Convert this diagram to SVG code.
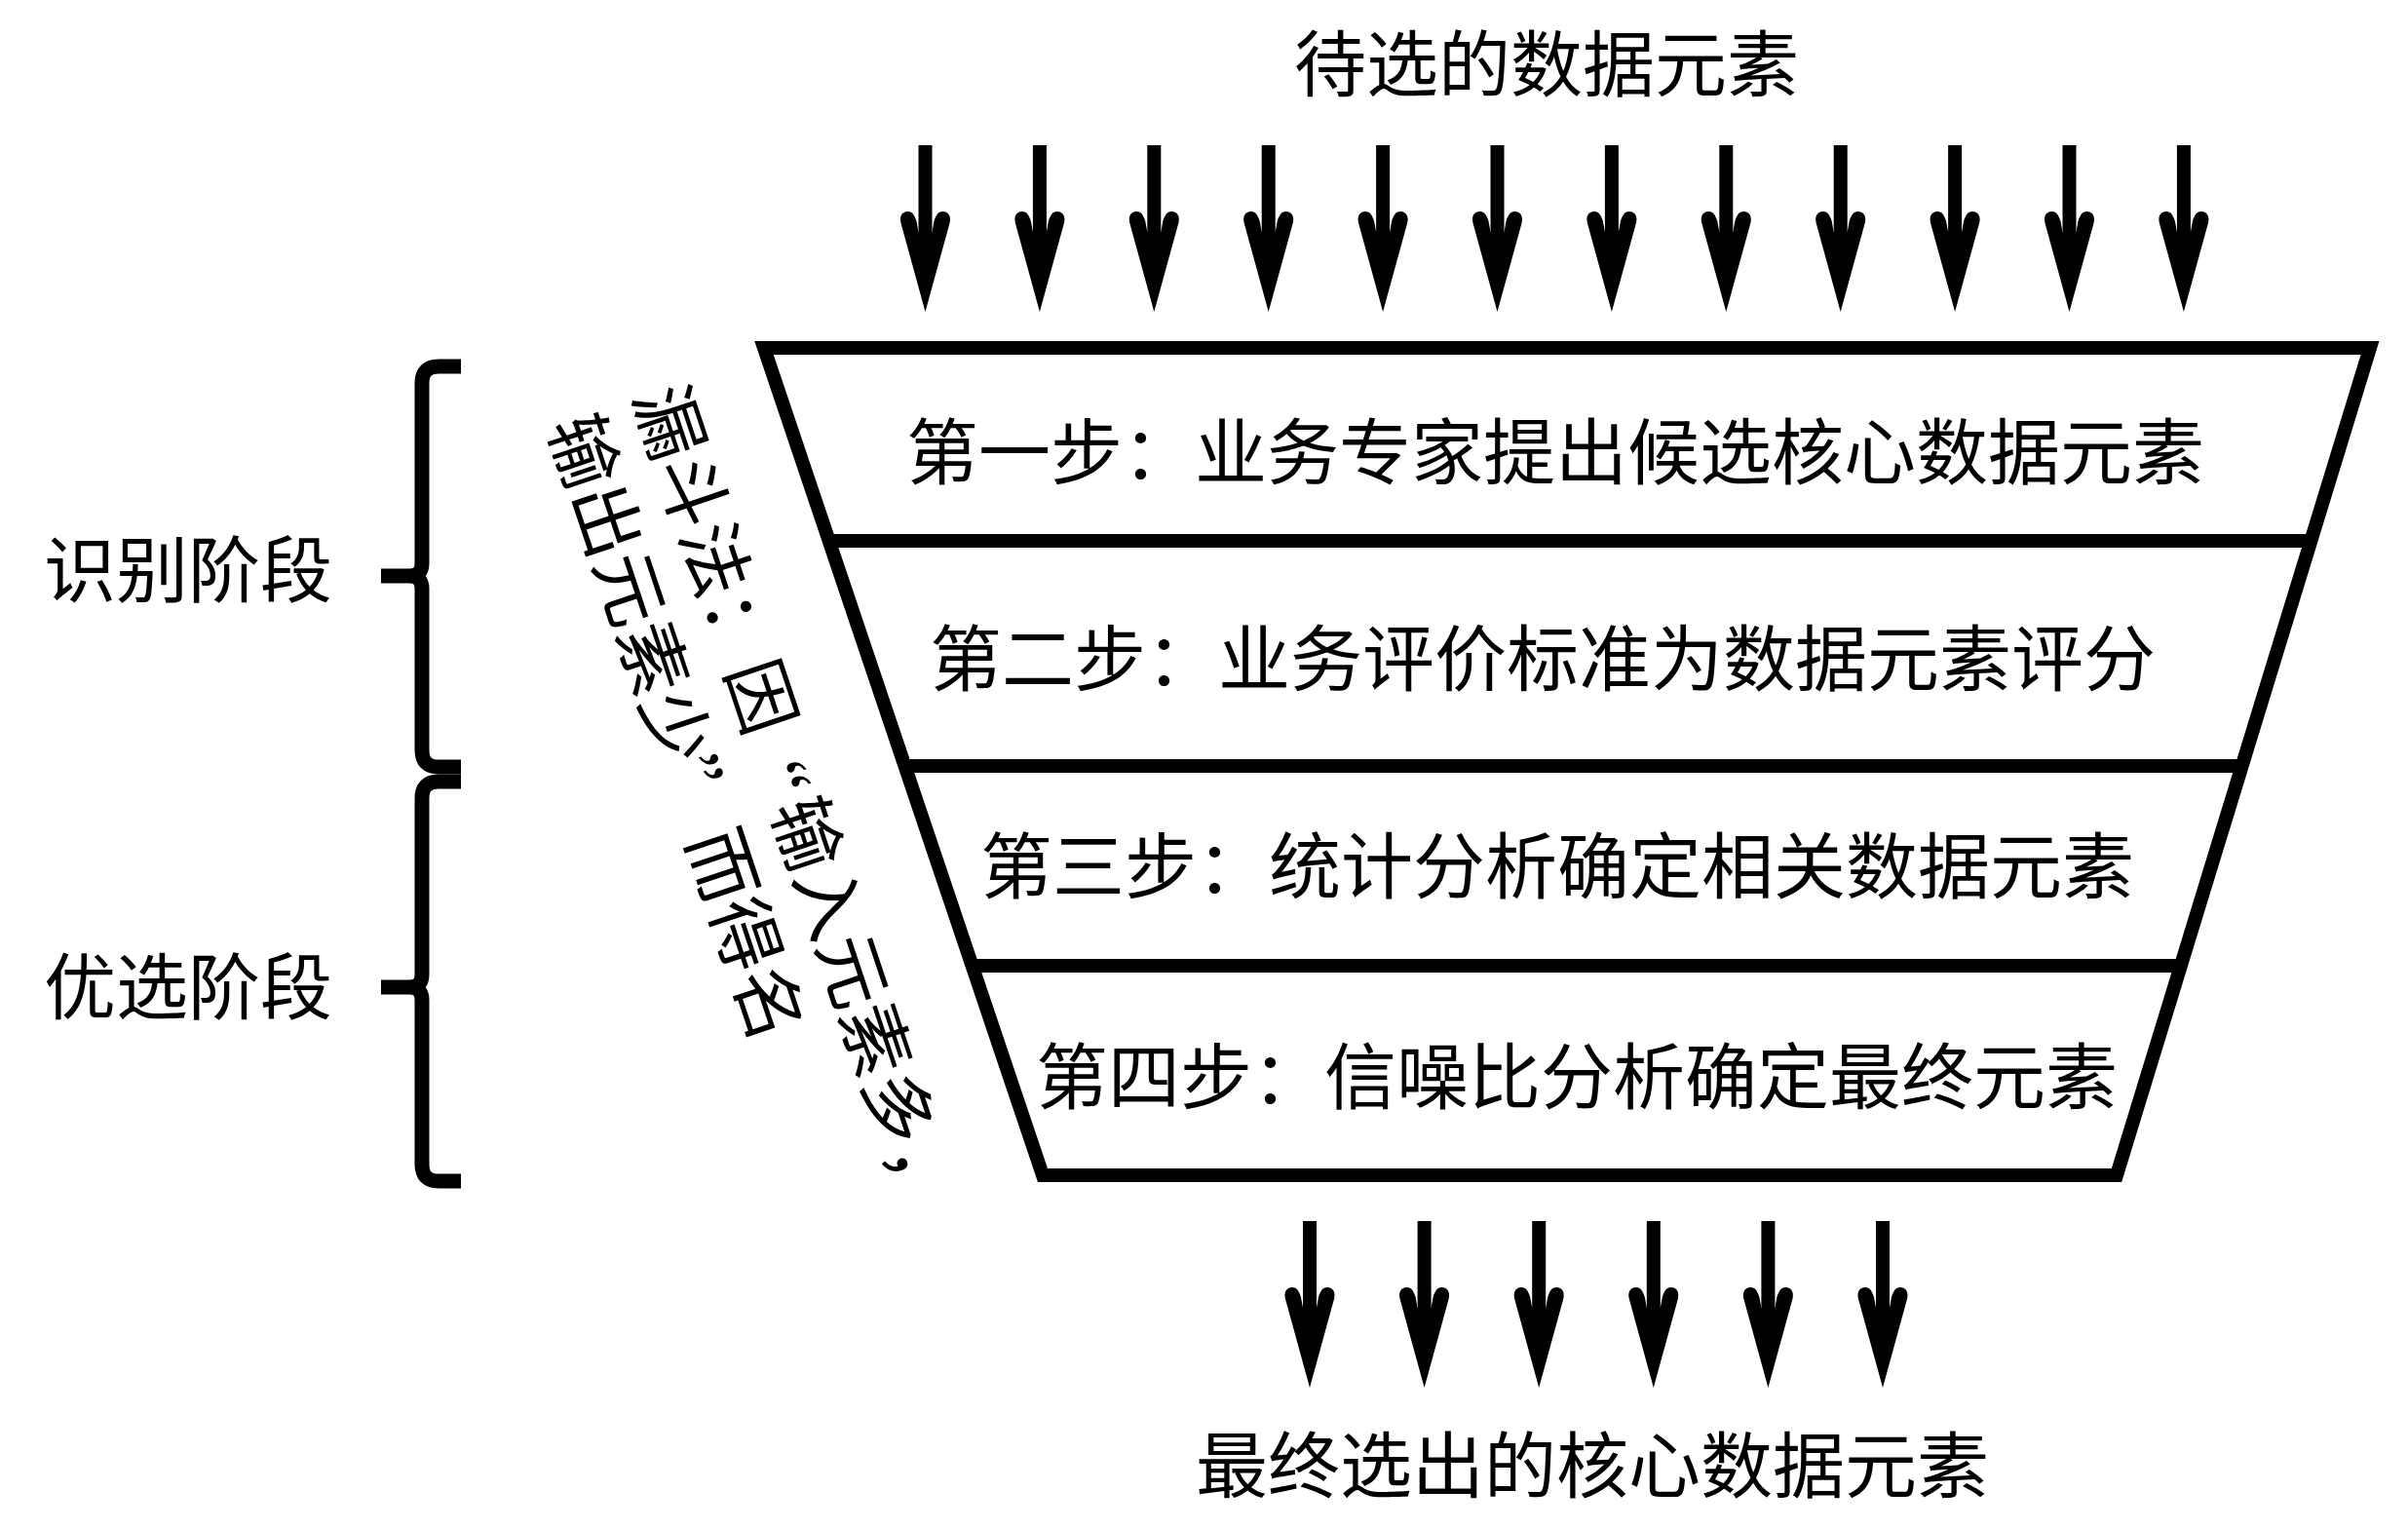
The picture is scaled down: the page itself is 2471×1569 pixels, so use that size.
<svg xmlns="http://www.w3.org/2000/svg" xmlns:xlink="http://www.w3.org/1999/xlink" width="2471" height="1569" viewBox="0 0 2471 1569">
<style>
.t{font-family:'Liberation Serif','Noto Sans CJK SC',serif;font-size:74px;fill:#000;text-anchor:middle}
.ln{stroke:#000;stroke-width:14;fill:none}
.br{stroke:#000;stroke-width:15;fill:none;stroke-linecap:butt}
</style>
<defs>
<g id="arr">
<rect x="-7" y="0" width="14" height="92" fill="#000"/>
<path d="M0,171 L-25,80 C-27,72 -23,68 -18,68 C-13,68 -11,72 -9,78 L-7,89 L7,89 L9,78 C11,72 13,68 18,68 C23,68 27,72 25,80 Z" fill="#000"/>
</g>
</defs>
<rect width="2471" height="1569" fill="#fff"/>

<g id="input-label"><text class="t" x="1587" y="93">待选的数据元素</text></g>
<g id="output-label"><text class="t" x="1634" y="1531">最终选出的核心数据元素</text></g>

<g id="funnel">
<polygon class="ln" points="784,357 2432,357 2172,1206 1070,1206"/>
<line class="ln" x1="850" y1="555" x2="2372" y2="555"/>
<line class="ln" x1="934" y1="786" x2="2301" y2="786"/>
<line class="ln" x1="997" y1="991" x2="2238" y2="991"/>
</g>

<g id="step1"><text class="t" x="1596" y="491">第一步：业务专家提出候选核心数据元素</text></g>
<g id="step2"><text class="t" x="1583" y="703">第二步：业务评价标准为数据元素评分</text></g>
<g id="step3"><text class="t" x="1598" y="916">第三步：统计分析确定相关数据元素</text></g>
<g id="step4"><text class="t" x="1618" y="1132">第四步：信噪比分析确定最终元素</text></g>

<g id="stage-identify">
<path class="br" d="M473,376 L450,376 Q433,376 433,393 L433,578 Q433,591 420,591 L391,591 M420,591 Q433,591 433,604 L433,770 Q433,787 450,787 L473,787"/>
<text class="t" x="193" y="612">识别阶段</text>
</g>
<g id="stage-select">
<path class="br" d="M473,802 L450,802 Q433,802 433,819 L433,1000 Q433,1013 420,1013 L391,1013 M420,1013 Q433,1013 433,1026 L433,1195 Q433,1212 450,1212 L473,1212"/>
<text class="t" x="193" y="1040">优选阶段</text>
</g>

<g id="funnel-note" transform="translate(688,433) rotate(71.5)">
<text class="t" y="28"><tspan x="0">漏</tspan><tspan x="74.2">斗</tspan><tspan x="148.4">法</tspan><tspan x="222.6">：</tspan><tspan x="296.8">因</tspan><tspan x="384" y="30">“</tspan><tspan x="445.2" y="28">输</tspan><tspan x="519.4">入</tspan><tspan x="593.6">元</tspan><tspan x="667.8">素</tspan><tspan x="742">多</tspan><tspan x="816.2">，</tspan></text>
<text class="t" y="120.6"><tspan x="0">输</tspan><tspan x="74.7">出</tspan><tspan x="149.4">元</tspan><tspan x="224.1">素</tspan><tspan x="298.8">少</tspan><tspan x="349" y="112">”</tspan><tspan x="448.2" y="120.6">而</tspan><tspan x="522.9">得</tspan><tspan x="597.6">名</tspan></text>
</g>

<g id="connectors">
<use xlink:href="#arr" transform="translate(949.5,149)"/>
<use xlink:href="#arr" transform="translate(1066.9,149)"/>
<use xlink:href="#arr" transform="translate(1184.3,149)"/>
<use xlink:href="#arr" transform="translate(1301.7,149)"/>
<use xlink:href="#arr" transform="translate(1419.1,149)"/>
<use xlink:href="#arr" transform="translate(1536.5,149)"/>
<use xlink:href="#arr" transform="translate(1653.9,149)"/>
<use xlink:href="#arr" transform="translate(1771.3,149)"/>
<use xlink:href="#arr" transform="translate(1888.7,149)"/>
<use xlink:href="#arr" transform="translate(2006.1,149)"/>
<use xlink:href="#arr" transform="translate(2123.5,149)"/>
<use xlink:href="#arr" transform="translate(2240.9,149)"/>
<use xlink:href="#arr" transform="translate(1344,1253)"/>
<use xlink:href="#arr" transform="translate(1461.6,1253)"/>
<use xlink:href="#arr" transform="translate(1579.2,1253)"/>
<use xlink:href="#arr" transform="translate(1696.8,1253)"/>
<use xlink:href="#arr" transform="translate(1814.4,1253)"/>
<use xlink:href="#arr" transform="translate(1932,1253)"/>
</g>
</svg>
